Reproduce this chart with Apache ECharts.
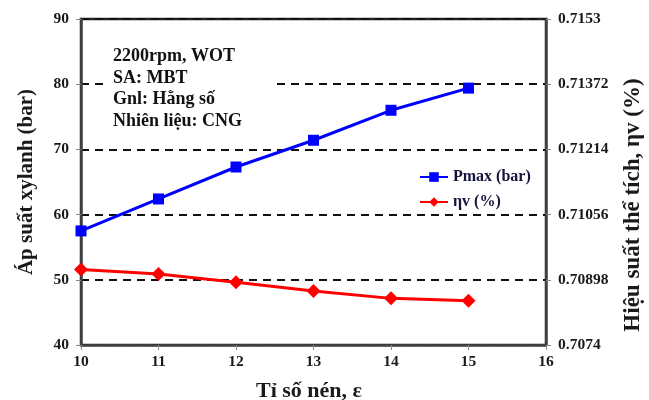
<!DOCTYPE html>
<html><head><meta charset="utf-8">
<script src="https://cdn.jsdelivr.net/npm/echarts@6/dist/echarts.min.js"></script>
<style>html,body{margin:0;padding:0;background:#fff}#c{width:649px;height:400px}</style>
</head><body><div id="c"></div>
<script>
const compressionRatio = [10, 11, 12, 13, 14, 15];
const pmax = [57.5, 62.4, 67.3, 71.4, 76.0, 79.4];
const etaV = [0.70923, 0.70912, 0.70892, 0.70871, 0.70853, 0.70847];
const leftTicks = [40, 50, 60, 70, 80, 90];
const rightTicks = [0.7074, 0.70898, 0.71056, 0.71214, 0.71372, 0.7153];
const xTicks = [10, 11, 12, 13, 14, 15, 16];
const seriesNames = ['Pmax (bar)', 'ηv (%)'];
const annotation = ['2200rpm, WOT', 'SA: MBT', 'Gnl: Hằng số', 'Nhiên liệu: CNG'];
const rightAxisTitle = 'Hiệu suất thể tích, ηv (%)';

const FONT = '"Liberation Serif", "Times New Roman", serif';
const chart = echarts.init(document.getElementById('c'), null, {renderer: 'canvas'});
const lbl = {fontFamily: FONT, fontWeight: 'bold', fontSize: 15.5, color: '#1a1a1a'};

chart.setOption({
  animation: false,
  backgroundColor: '#fff',
  grid: {left: 81, right: 103, top: 19, bottom: 55, containLabel: false, outerBoundsMode: 'none',
    show: true, borderColor: '#222', borderWidth: 2.5, backgroundColor: 'transparent'},
  legend: {
    data: seriesNames, orient: 'vertical', left: 414, top: 164, itemWidth: 28, itemHeight: 12, itemGap: 9,
    textStyle: {fontFamily: FONT, fontWeight: 'bold', fontSize: 16, color: '#14143c'}
  },
  xAxis: {
    type: 'value', min: xTicks[0], max: xTicks[xTicks.length - 1], interval: 1,
    name: 'Tỉ số nén, ε', nameLocation: 'middle', nameGap: 35,
    nameTextStyle: {fontFamily: FONT, fontWeight: 'bold', fontSize: 22, color: '#1a1a1a', padding: [0, 9, 0, 0]},
    axisLine: {lineStyle: {color: '#444', width: 2.5}},
    axisTick: {inside: false, length: 5, lineStyle: {color: '#888'}},
    axisLabel: Object.assign({margin: 9}, lbl),
    splitLine: {show: false}
  },
  yAxis: [{
    type: 'value', min: leftTicks[0], max: leftTicks[leftTicks.length - 1], interval: 10,
    name: 'Áp suất xylanh (bar)', nameLocation: 'middle', nameGap: 44, nameRotate: 90,
    nameTextStyle: {fontFamily: FONT, fontWeight: 'bold', fontSize: 21, color: '#1a1a1a'},
    axisLine: {show: true, lineStyle: {color: '#444', width: 2.5}},
    axisTick: {show: true, inside: false, length: 5, lineStyle: {color: '#888'}},
    axisLabel: Object.assign({margin: 12}, lbl),
    splitLine: {show: true, lineStyle: {color: '#111', width: 2, type: [8, 6]}}
  }, {
    type: 'value', min: rightTicks[0], max: rightTicks[rightTicks.length - 1], alignTicks: true,
    position: 'right',
    axisLine: {show: true, lineStyle: {color: '#444', width: 2.5}},
    axisTick: {show: true, inside: false, length: 5, lineStyle: {color: '#888'}},
    axisLabel: Object.assign({margin: 12, formatter: function (v) {
      let best = rightTicks[0];
      rightTicks.forEach(t => { if (Math.abs(t - v) < Math.abs(best - v)) best = t; });
      return String(best);
    }}, lbl),
    splitLine: {show: false}
  }],
  graphic: [
    {type: 'rect', left: 108, top: 40, shape: {width: 168, height: 94}, style: {fill: '#fff'}, z: 50},
    {type: 'text', left: 113, top: 46, z: 51, style: {text: annotation.join('\n'), font: 'bold 18px ' + FONT, lineHeight: 21.5, fill: '#111'}},
    {type: 'text', x: 633, y: 205, rotation: Math.PI / 2, z: 51,
      style: {text: rightAxisTitle, font: 'bold 23px ' + FONT, fill: '#1a1a1a', align: 'center', verticalAlign: 'middle'}}
  ],
  series: [{
    name: seriesNames[0], type: 'line', yAxisIndex: 0,
    data: compressionRatio.map((x, i) => [x, pmax[i]]),
    symbol: 'rect', symbolSize: 11, lineStyle: {color: '#0000ff', width: 3},
    itemStyle: {color: '#0000ff'}, z: 10
  }, {
    name: seriesNames[1], type: 'line', yAxisIndex: 1,
    data: compressionRatio.map((x, i) => [x, etaV[i]]),
    symbol: 'diamond', symbolSize: 14, lineStyle: {color: '#ff0000', width: 3},
    itemStyle: {color: '#ff0000'}, z: 10
  }]
});
</script></body></html>
